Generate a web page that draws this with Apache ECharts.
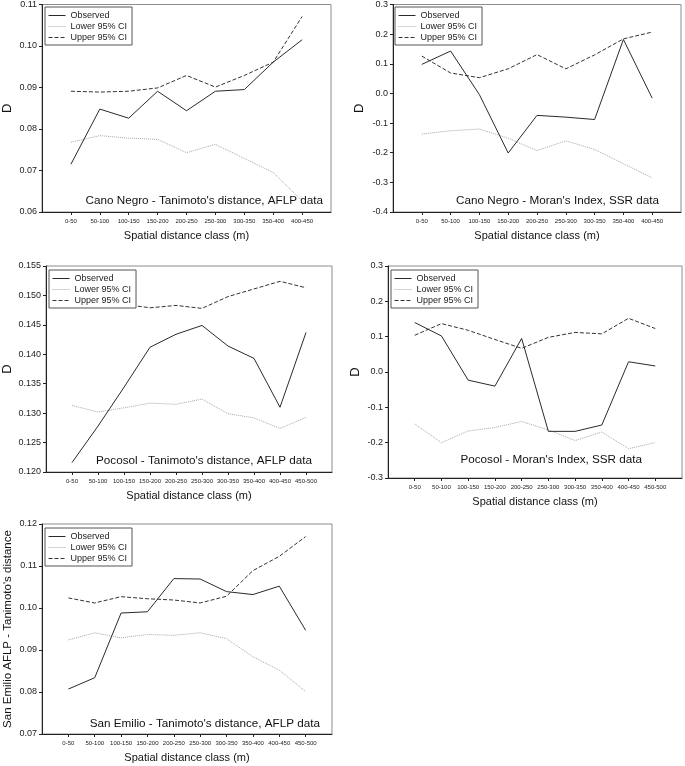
<!DOCTYPE html>
<html>
<head>
<meta charset="utf-8">
<script src="https://cdn.jsdelivr.net/npm/echarts@6/dist/echarts.min.js"></script>
<style>
html,body{margin:0;padding:0;background:#fff;}
#chart{width:685px;height:766px;}
</style>
</head>
<body>
<div id="chart"></div>
<script>
// ---- Data ----
const CATS_9 = ['0-50','50-100','100-150','150-200','200-250','250-300','300-350','350-400','400-450'];
const CATS_10 = ['0-50','50-100','100-150','150-200','200-250','250-300','300-350','350-400','400-450','450-500'];
const SERIES_NAMES = ['Observed','Lower 95% CI','Upper 95% CI'];

// Cano Negro - Tanimoto's distance, AFLP data
const CN_TAN_OBS = [0.0715,0.0848,0.0826,0.0891,0.0844,0.0891,0.0895,0.0961,0.1015];
const CN_TAN_LOW = [0.0768,0.0784,0.0778,0.0775,0.0743,0.0763,0.0729,0.0695,0.0627];
const CN_TAN_UP  = [0.0891,0.0889,0.0891,0.0899,0.0929,0.0901,0.0929,0.0961,0.1071];

// Cano Negro - Moran's Index, SSR data
const CN_MOR_OBS = [0.098,0.143,-0.004,-0.201,-0.074,-0.080,-0.088,0.182,-0.016];
const CN_MOR_LOW = [-0.137,-0.126,-0.120,-0.151,-0.193,-0.160,-0.189,-0.237,-0.285];
const CN_MOR_UP  = [0.126,0.069,0.053,0.083,0.131,0.083,0.130,0.184,0.207];

// Pocosol - Tanimoto's distance, AFLP data
const PO_TAN_OBS = [0.1216,0.1278,0.1344,0.1412,0.1434,0.1449,0.1414,0.1393,0.1310,0.1437];
const PO_TAN_LOW = [0.1313,0.1302,0.1309,0.1317,0.1315,0.1324,0.1299,0.1292,0.1274,0.1293];
const PO_TAN_UP  = [0.1490,0.1488,0.1485,0.1479,0.1483,0.1478,0.1498,0.1511,0.1524,0.1513];

// Pocosol - Moran's Index, SSR data
const PO_MOR_OBS = [0.140,0.102,-0.023,-0.040,0.095,-0.168,-0.168,-0.150,0.029,0.017];
const PO_MOR_LOW = [-0.147,-0.200,-0.167,-0.157,-0.140,-0.164,-0.194,-0.170,-0.217,-0.200];
const PO_MOR_UP  = [0.104,0.137,0.118,0.092,0.067,0.098,0.112,0.108,0.152,0.123];

// San Emilio - Tanimoto's distance, AFLP data
const SE_TAN_OBS = [0.0807,0.0834,0.0988,0.0991,0.1070,0.1069,0.1039,0.1032,0.1052,0.0947];
const SE_TAN_LOW = [0.0924,0.0941,0.0929,0.0937,0.0935,0.0941,0.0927,0.0884,0.0852,0.0801];
const SE_TAN_UP  = [0.1024,0.1012,0.1027,0.1022,0.1019,0.1012,0.1028,0.1089,0.1123,0.1170];

const PANEL_TITLES = [
  "Cano Negro - Tanimoto's distance, AFLP data",
  "Cano Negro - Moran's Index, SSR data",
  "Pocosol - Tanimoto's distance, AFLP data",
  "Pocosol - Moran's Index, SSR data",
  "San Emilio - Tanimoto's distance, AFLP data"
];
const X_NAME = 'Spatial distance class (m)';
const Y_NAMES = ['D','D','D','D',"San Emilio AFLP - Tanimoto's distance"];

// ---- Layout ----
const FONT = "'Liberation Sans', Arial, sans-serif";
const panels = [
  {cats:CATS_9, obs:CN_TAN_OBS, low:CN_TAN_LOW, up:CN_TAN_UP, min:0.06, max:0.11, interval:0.01, dec:2,
   grid:{left:41, top:4, width:290, height:208}, yGap:28, legend:{left:45, top:7}, title:{right:362, top:195}},
  {cats:CATS_9, obs:CN_MOR_OBS, low:CN_MOR_LOW, up:CN_MOR_UP, min:-0.4, max:0.3, interval:0.1, dec:1,
   grid:{left:393, top:4, width:288, height:208}, yGap:27, legend:{left:395, top:7}, title:{right:26, top:195}},
  {cats:CATS_10, obs:PO_TAN_OBS, low:PO_TAN_LOW, up:PO_TAN_UP, min:0.12, max:0.155, interval:0.005, dec:3,
   grid:{left:44, top:266, width:288, height:206}, yGap:32, legend:{left:49, top:270}, title:{right:373, top:455}},
  {cats:CATS_10, obs:PO_MOR_OBS, low:PO_MOR_LOW, up:PO_MOR_UP, min:-0.3, max:0.3, interval:0.1, dec:1,
   grid:{left:388, top:266, width:294, height:212}, yGap:26, legend:{left:391, top:270}, title:{right:43, top:454}},
  {cats:CATS_10, obs:SE_TAN_OBS, low:SE_TAN_LOW, up:SE_TAN_UP, min:0.07, max:0.12, interval:0.01, dec:2,
   grid:{left:42, top:524, width:290, height:210}, yGap:28.5, legend:{left:45, top:528}, title:{right:365, top:718}}
];

const STYLES = [
  {color:'#2a2a2a', type:'solid', width:1},
  {color:'#a8a8a8', type:'dotted', width:1},
  {color:'#333333', type:[4,2], width:1}
];

const option = {
  animation:false,
  backgroundColor:'#fff',
  textStyle:{fontFamily:FONT},
  grid:[], xAxis:[], yAxis:[], series:[], legend:[], title:[]
};

panels.forEach((p, i) => {
  option.grid.push(Object.assign({show:true, borderColor:'#8c8c8c', borderWidth:1, backgroundColor:'transparent'}, p.grid));
  option.xAxis.push({
    type:'category', gridIndex:i, boundaryGap:false,
    data:[''].concat(p.cats, ['']),
    name:X_NAME, nameLocation:'middle', nameGap:18,
    nameTextStyle:{fontSize:11, color:'#111', fontFamily:FONT},
    axisLine:{onZero:false, lineStyle:{color:'#222', width:1}},
    axisTick:{show:true, inside:false, length:3, lineStyle:{color:'#222'},
      interval:(idx) => idx > 0 && idx <= p.cats.length},
    axisLabel:{fontSize:6, color:'#222', margin:6, interval:0, fontFamily:FONT},
    splitLine:{show:false}
  });
  option.yAxis.push({
    type:'value', gridIndex:i, min:p.min, max:p.max, interval:p.interval,
    name:Y_NAMES[i], nameLocation:'middle', nameGap:p.yGap,
    nameTextStyle:{fontSize: i === 4 ? 11.5 : 13, color:'#111', fontFamily:FONT},
    axisLine:{show:true, onZero:false, lineStyle:{color:'#222', width:1}},
    axisTick:{show:true, inside:false, length:3, lineStyle:{color:'#222'}},
    axisLabel:{fontSize:9, color:'#222', margin:5, fontFamily:FONT,
      formatter:(v) => v.toFixed(p.dec)},
    splitLine:{show:false}
  });
  [p.obs, p.low, p.up].forEach((arr, k) => {
    option.series.push({
      type:'line', name:SERIES_NAMES[k], xAxisIndex:i, yAxisIndex:i,
      data:[null].concat(arr, [null]),
      symbol:'none', showSymbol:false, connectNulls:false,
      lineStyle:STYLES[k], itemStyle:{color:STYLES[k].color},
      z: 3 - k
    });
  });
  option.legend.push({
    left:p.legend.left, top:p.legend.top, orient:'vertical',
    data:SERIES_NAMES, selectedMode:false,
    backgroundColor:'#fff', borderColor:'#555', borderWidth:1, borderRadius:0,
    padding:[4,5,3,3], itemGap:2, itemWidth:17, itemHeight:7,
    itemStyle:{opacity:0},
    lineStyle:{width:1},
    textStyle:{fontSize:9, lineHeight:9, color:'#222', fontFamily:FONT},
    z:10
  });
  option.title.push({
    text:PANEL_TITLES[i], right:p.title.right, top:p.title.top, padding:0,
    textStyle:{fontSize:11.7, fontWeight:'normal', color:'#111', fontFamily:FONT}
  });
});

const chart = echarts.init(document.getElementById('chart'), null, {renderer:'canvas'});
chart.setOption(option);
</script>
</body>
</html>
